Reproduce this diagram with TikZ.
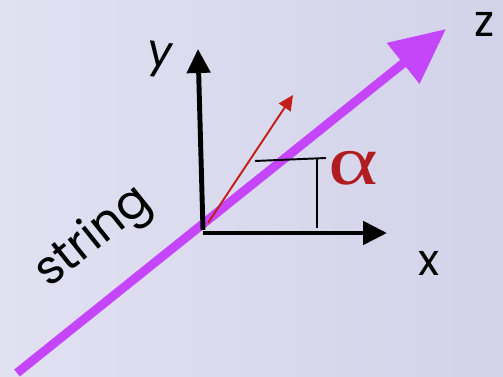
\documentclass[tikz,border=0pt]{standalone}
\usepackage{fontspec}
\setsansfont{Poppins}
\newfontfamily\greekserif{Liberation Serif}
\usepackage{tikz}
\usetikzlibrary{arrows.meta}
\definecolor{BgLeft}{HTML}{E2E1F2}
\definecolor{BgRight}{HTML}{D2D2E9}
\definecolor{StringPurple}{HTML}{C545FA}
\definecolor{VecRed}{HTML}{C21E1A}
\definecolor{AngleRed}{HTML}{B01C20}
\tikzset{
  axis/.style={line width=2.8pt,draw=black,-{Triangle[length=0.48cm,width=0.46cm]}},
  stringline/.style={line width=5.1pt,draw=StringPurple,-{Triangle[length=1.1cm,width=1.0cm]}},
  vecline/.style={line width=1.1pt,draw=VecRed,-{Triangle[length=0.3cm,width=0.28cm]}},
  angleline/.style={line width=1.1pt,draw=black},
  axlabel/.style={font=\fontsize{25}{28}\selectfont\sffamily,text=black,inner sep=0pt},
}

\begin{document}
\begin{tikzpicture}[x=0.02cm,y=-0.02cm]
  % background
  \shade[left color=BgLeft,right color=BgRight] (0,0) rectangle (503,377);
  \useasboundingbox (0,0) rectangle (503,377);
  % points
  \coordinate (s0) at (17,373);
  \coordinate (s1) at (446,29);
  \coordinate (oy) at (203,230);
  \coordinate (ty) at (198,49);
  \coordinate (ox) at (203,233);
  \coordinate (tx) at (387,233);
  \coordinate (ov) at (208,223);
  \coordinate (tv) at (293,95);
  \coordinate (h0) at (255,161);
  \coordinate (h1) at (326,158);
  \coordinate (v0) at (317,159);
  \coordinate (v1) at (317,228);
  % string and axes
  \draw[stringline] (s0) -- (s1);
  \draw[axis] (oy) -- (ty);
  \draw[axis] (ox) -- (tx);
  \draw[vecline] (ov) -- (tv);
  \draw[angleline] (h0) -- (h1);
  \draw[angleline] (v0) -- (v1);
  % labels
  \node[axlabel] (zlab) at (484,24) {z};
  \node[axlabel,rotate=-8] (ylab) at (160,60) {y};
  \node[axlabel] (xlab) at (429,263) {x};
  \node[axlabel,font=\fontsize{27}{30}\selectfont\sffamily,rotate=38.7] (slab) at (94,238) {string};
  \node[font=\fontsize{40}{44}\selectfont\greekserif,text=AngleRed,inner sep=0pt,xscale=1.35] (alab) at (353,168) {α};
\end{tikzpicture}
\end{document}
